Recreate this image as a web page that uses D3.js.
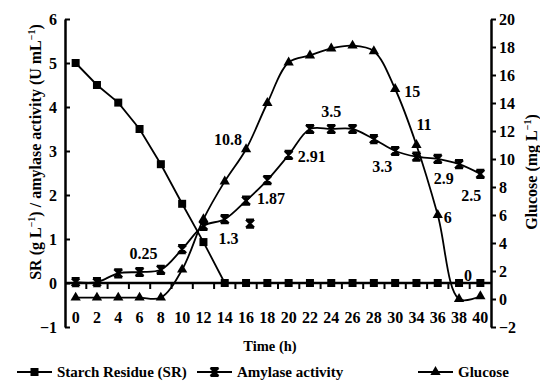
<!DOCTYPE html>
<html><head><meta charset="utf-8">
<script src="https://cdn.jsdelivr.net/npm/d3@7"></script>
<style>
body{margin:0;background:#fff}
svg{display:block}
svg text{font-family:'Liberation Serif','Tinos','Times New Roman','DejaVu Serif',serif !important;font-weight:bold;fill:#000}
</style>
</head><body>
<svg id="c" width="540" height="383"></svg>
<script>
// ---- data ----
const times = ["0","2","4","6","8","10","12","14","16","18","20","22","24","26","28","30","34","36","38","40"];
const starchResidue = [5.0,4.5,4.1,3.5,2.7,1.8,0.93,0,0,0,0,0,0,0,0,0,0,0,0,0];
const amylaseActivity = [0.02,0.02,0.22,0.25,0.3,0.77,1.3,1.45,1.87,2.34,2.91,3.5,3.5,3.5,3.27,3.0,2.87,2.82,2.7,2.48];
const glucose = [0.1,0.1,0.1,0.1,0.1,2.1,5.7,8.4,10.7,14.0,16.9,17.4,17.9,18.1,17.7,15.0,11.0,6.0,0.0,0.2];
const amylaseStrayTime = ["16"];
const amylaseStrayValue = [1.35];
const leftTicks = [-1,0,1,2,3,4,5,6];
const rightTicks = [-2,0,2,4,6,8,10,12,14,16,18,20];
const seriesNames = ["Starch Residue (SR)","Amylase activity","Glucose"];
const labelSeries = ["amy","amy","glu","amy","amy","amy","glu","glu","amy","amy","amy","glu","glu"];
const labelTimes  = ["6","12","16","16","20","24","30","34","30","36","40","36","38"];
const labelTexts  = ["0.25","1.3","10.8","1.87","2.91","3.5","15","11","3.3","2.9","2.5","6","0"];
// label placement (style, not data)
const labelStyle = [
  {dx:4,dy:-13,a:"middle"},{dx:15,dy:18,a:"start"},{dx:-4,dy:-4,a:"end"},
  {dx:11,dy:3,a:"start"},{dx:9,dy:7,a:"start"},{dx:0,dy:-12,a:"middle"},
  {dx:9,dy:8,a:"start"},{dx:0,dy:-15,a:"start"},{dx:-3,dy:21,a:"end"},
  {dx:-4,dy:25,a:"start"},{dx:1,dy:27,a:"end"},{dx:6,dy:8,a:"start"},{dx:5,dy:-18,a:"start"}
];
const FONT = "'Liberation Serif','Tinos','Times New Roman','DejaVu Serif',serif";

// ---- scales ----
const svg = d3.select("#c");
const L = 65, R = 491, T = 19, B = 327;
const x = d3.scaleBand().domain(times).range([L,R]).padding(0);
const cx = t => x(t) + x.bandwidth()/2;
const yL = d3.scaleLinear().domain([-1,6]).range([B,T]);
const yR = d3.scaleLinear().domain([-2,20]).range([B,T]);

// ---- axes ----
const gl = svg.append("g").attr("transform",`translate(${L},0)`)
  .call(d3.axisLeft(yL).tickValues(leftTicks).tickFormat(d3.format("d")).tickSizeInner(-5).tickSizeOuter(0).tickPadding(8));
const gr = svg.append("g").attr("transform",`translate(${R},0)`)
  .call(d3.axisRight(yR).tickValues(rightTicks).tickFormat(d3.format("d")).tickSizeInner(5).tickSizeOuter(0).tickPadding(3));
[gl,gr].forEach(g=>{
  g.attr("font-family",FONT).attr("font-size",16);
  g.select(".domain").attr("stroke","#000").attr("stroke-width",2.5);
  g.selectAll(".tick line").attr("stroke","#000").attr("stroke-width",2);
  g.selectAll(".tick text").attr("font-size",16);
});

// category axis at y=0 of left scale
const y0 = yL(0);
svg.append("line").attr("x1",L).attr("x2",R).attr("y1",y0).attr("y2",y0)
  .attr("stroke","#000").attr("stroke-width",2.5);
svg.append("g").selectAll("line").data(times.slice(1)).join("line")
  .attr("x1",d=>x(d)).attr("x2",d=>x(d)).attr("y1",y0).attr("y2",y0+6)
  .attr("stroke","#000").attr("stroke-width",2);
svg.append("g").selectAll("text").data(times).join("text")
  .attr("x",d=>cx(d)).attr("y",323).attr("text-anchor","middle").attr("font-size",16).text(d=>d);

// ---- titles ----
svg.append("text").attr("x",270).attr("y",351).attr("text-anchor","middle").attr("font-size",14.5).text("Time (h)");
const lt = svg.append("text").attr("transform","translate(41,152) rotate(-90)").attr("text-anchor","middle").attr("font-size",16);
lt.append("tspan").text("SR (g L");
lt.append("tspan").attr("font-size",10).attr("dy",-6).text("\u22121");
lt.append("tspan").attr("dy",6).text(") / amylase activity (U mL");
lt.append("tspan").attr("font-size",10).attr("dy",-6).text("\u22121");
lt.append("tspan").attr("dy",6).text(")");
const rt = svg.append("text").attr("transform","translate(537,172) rotate(-90)").attr("text-anchor","middle").attr("font-size",16);
rt.append("tspan").text("Glucose (mg L");
rt.append("tspan").attr("font-size",10).attr("dy",-6).text("\u22121");
rt.append("tspan").attr("dy",6).text(")");

// ---- markers ----
const star = s => `M${-s},${-s}L${s},${s}M${s},${-s}L${-s},${s}M${-s},${-s}L${s},${-s}M${-s},${s}L${s},${s}M0,${-s}L0,${s}`;
function drawMarker(g, type, px, py){
  if(type==="sq"){
    g.append("rect").attr("x",px-4).attr("y",py-4).attr("width",8).attr("height",8).attr("fill","#000");
  } else if(type==="tri"){
    g.append("path").attr("transform",`translate(${px},${py})`).attr("d",d3.symbol(d3.symbolTriangle,46)()).attr("fill","#000");
  } else {
    g.append("path").attr("transform",`translate(${px},${py})`).attr("d",star(4)).attr("fill","none").attr("stroke","#000").attr("stroke-width",2.2);
  }
}

// ---- series ----
const series = [
  {vals:starchResidue, y:yL, m:"sq", curve:d3.curveLinear},
  {vals:amylaseActivity, y:yL, m:"star", curve:d3.curveCatmullRom.alpha(0.5)},
  {vals:glucose, y:yR, m:"tri", curve:d3.curveCatmullRom.alpha(0.5)}
];
series.forEach(s=>{
  const line = d3.line().x((d,i)=>cx(times[i])).y(d=>s.y(d)).curve(s.curve);
  svg.append("path").attr("d",line(s.vals)).attr("fill","none").attr("stroke","#000").attr("stroke-width",1.8);
  const g = svg.append("g");
  s.vals.forEach((v,i)=>drawMarker(g,s.m,cx(times[i]),s.y(v)));
});
const gs = svg.append("g");
amylaseStrayTime.forEach((t,i)=>drawMarker(gs,"star",cx(t)+4,yL(amylaseStrayValue[i])));

// ---- point labels ----
labelTexts.forEach((txt,i)=>{
  const t = labelTimes[i], idx = times.indexOf(t);
  const py = labelSeries[i]==="amy" ? yL(amylaseActivity[idx]) : yR(glucose[idx]);
  const st = labelStyle[i];
  svg.append("text").attr("x",cx(t)+st.dx).attr("y",py+st.dy).attr("text-anchor",st.a)
    .attr("font-size",16).text(txt);
});

// ---- legend ----
const legX = [17,197,418];
const legM = ["sq","star","tri"];
const ly = 372;
seriesNames.forEach((n,i)=>{
  const g = svg.append("g");
  g.append("line").attr("x1",legX[i]).attr("x2",legX[i]+35).attr("y1",ly).attr("y2",ly).attr("stroke","#000").attr("stroke-width",2);
  drawMarker(g,legM[i],legX[i]+17.5,ly);
  g.append("text").attr("x",legX[i]+40).attr("y",ly+5).attr("font-size",15).text(n);
});
svg.selectAll("text").attr("font-family",FONT);
</script>
</body></html>
